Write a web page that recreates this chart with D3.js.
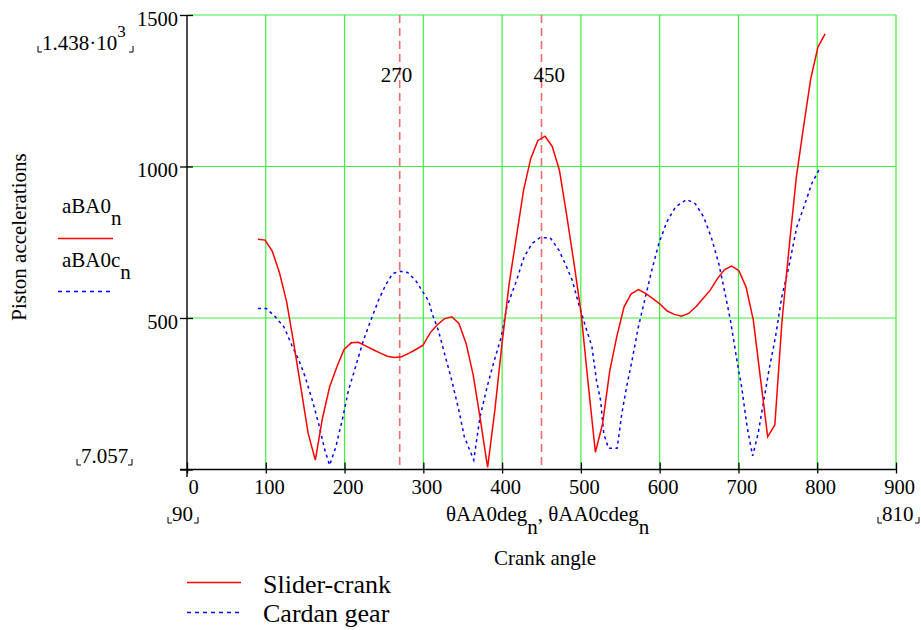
<!DOCTYPE html>
<html>
<head>
<meta charset="utf-8">
<script src="https://cdn.jsdelivr.net/npm/d3@7"></script>
<style>
  body { margin: 0; background: #fff; }
  text { font-family: "Liberation Serif", "Times New Roman", serif; fill: #000; }
</style>
</head>
<body>
<div id="chart"></div>
<script>
// crank angle samples (deg) for the slider-crank curve
var sliderAngles = [90, 99.1, 108.2, 117.3, 126.5, 135.6, 144.7, 153.8, 162.9, 172.0,
  181.1, 190.3, 199.4, 208.5, 217.6, 226.7, 235.8, 244.9, 254.1, 263.2,
  272.3, 281.4, 290.5, 299.6, 308.7, 317.8, 327.0, 336.1, 345.2, 354.3,
  363.4, 372.5, 381.6, 390.8, 399.9, 409.0, 418.1, 427.2, 436.3, 445.4,
  454.6, 463.7, 472.8, 481.9, 491.0, 500.1, 509.2, 518.4, 527.5, 536.6,
  545.7, 554.8, 563.9, 573.0, 582.2, 591.3, 600.4, 609.5, 618.6, 627.7,
  636.8, 646.0, 655.1, 664.2, 673.3, 682.4, 691.5, 700.6, 709.7, 718.9,
  728.0, 737.1, 746.2, 755.3, 764.4, 773.5, 782.7, 791.8, 800.9, 810];
var sliderAcc = [760, 757, 721, 650, 553, 415, 268, 119, 31, 170,
  273, 339, 396, 418, 420, 408, 396, 385, 374, 370,
  372, 383, 396, 410, 451, 478, 498, 504, 482, 416,
  311, 163, 7.057, 196, 416, 614, 767, 921, 1026, 1086,
  1100, 1066, 987, 840, 685, 520, 284, 57, 150, 325,
  440, 537, 580, 594, 581, 564, 546, 523, 512, 506,
  515, 537, 564, 592, 630, 660, 671, 656, 602, 493,
  300, 108, 147, 490, 735, 965, 1132, 1290, 1394, 1438];

// cardan gear curve
var cardanAngles = [90, 101, 112, 123, 133, 142, 150, 159, 167, 175,
  181, 189, 198, 205, 214, 224, 235, 244, 252, 261,
  271, 280, 290, 298, 307, 311, 319, 328, 336, 345,
  352, 364, 372, 381, 389, 399, 406, 417, 428, 438,
  448, 461, 472, 480, 489, 497, 506, 514, 520, 525,
  529, 535, 546, 552, 558, 565, 573, 582, 590, 599,
  609, 620, 634, 645, 656, 666, 675, 683, 690, 698,
  704, 711, 718, 725, 734, 738, 747, 755, 764, 774,
  783, 793, 804];
var cardanAcc = [531, 531, 504, 471, 410, 361, 306, 229, 152, 64,
  14, 75, 174, 262, 339, 427, 504, 564, 608, 647,
  654, 650, 625, 592, 555, 515, 460, 372, 295, 196,
  108, 31, 174, 273, 350, 438, 537, 614, 702, 746,
  765, 765, 724, 680, 625, 548, 471, 405, 290, 229,
  119, 70, 70, 185, 273, 361, 471, 570, 658, 746,
  817, 866, 891, 878, 833, 762, 680, 581, 490, 361,
  273, 141, 45, 119, 255, 317, 438, 570, 669, 800,
  866, 943, 998];

var xTicks = [0, 100, 200, 300, 400, 500, 600, 700, 800, 900];
var yTicks = [0, 500, 1000, 1500];
var markers = [270, 450];

var W = 921, H = 630;
var svg = d3.select('#chart').append('svg')
    .attr('width', W)
    .attr('height', H);

var x = d3.scaleLinear().domain([0, 900]).range([187, 896]);
var y = d3.scaleLinear().domain([0, 1500]).range([469.5, 15]);

var green = '#3cf03c';

// grid
svg.append('g').selectAll('line')
    .data(xTicks.slice(1))
    .enter().append('line')
    .attr('x1', d => x(d)).attr('x2', d => x(d))
    .attr('y1', y(0)).attr('y2', y(1500))
    .attr('stroke', green).attr('stroke-width', 1.2);

svg.append('g').selectAll('line')
    .data(yTicks.slice(1))
    .enter().append('line')
    .attr('x1', x(0)).attr('x2', x(900))
    .attr('y1', d => y(d)).attr('y2', d => y(d))
    .attr('stroke', green).attr('stroke-width', 1.2);

// marker lines
svg.append('g').selectAll('line')
    .data(markers)
    .enter().append('line')
    .attr('x1', d => x(d)).attr('x2', d => x(d))
    .attr('y1', y(1500)).attr('y2', y(0))
    .attr('stroke', '#f26b6b').attr('stroke-width', 1.6)
    .attr('stroke-dasharray', '8,5');

svg.append('text').attr('x', x(270) - 19).attr('y', 82)
    .style('font-size', '21px').text('270');
svg.append('text').attr('x', x(450) - 8).attr('y', 82)
    .style('font-size', '21px').text('450');

// x axis
var xAxis = d3.axisBottom(x).tickValues(xTicks).tickSize(4).tickPadding(10).tickFormat(d3.format('d'));
var gx = svg.append('g')
    .attr('transform', 'translate(0,' + y(0) + ')')
    .call(xAxis);
gx.select('.domain').remove();
gx.selectAll('.tick line').attr('y1', -7).attr('y2', 4).attr('stroke', '#000').attr('stroke-width', 1.3);
gx.selectAll('.tick text')
    .attr('x', 3).attr('y', 24).attr('dy', 0)
    .style('font-size', '20.5px')
    .style('font-family', '"Liberation Serif", serif');
gx.select('.tick text').attr('x', 6);

// y axis
var yAxis = d3.axisLeft(y).tickValues(yTicks).tickSize(7).tickFormat(d3.format('d'));
var gy = svg.append('g')
    .attr('transform', 'translate(' + x(0) + ',0)')
    .call(yAxis);
gy.select('.domain').remove();
gy.selectAll('.tick line').attr('x1', -7).attr('x2', 6).attr('stroke', '#000').attr('stroke-width', 1.3);
gy.selectAll('.tick text')
    .attr('x', -9).attr('dy', 0).attr('y', 10)
    .style('font-size', '20.5px')
    .style('font-family', '"Liberation Serif", serif');
gy.selectAll('.tick').filter(d => d === 0).select('text').remove();

// axis lines
svg.append('line').attr('x1', 180).attr('x2', x(900))
    .attr('y1', y(0)).attr('y2', y(0))
    .attr('stroke', '#000').attr('stroke-width', 1.4);
svg.append('line').attr('x1', x(0)).attr('x2', x(0))
    .attr('y1', y(1500)).attr('y2', 477)
    .attr('stroke', '#000').attr('stroke-width', 1.4);

// curves
var line = d3.line().x(d => x(d[0])).y(d => y(d[1]));
var sliderData = d3.zip(sliderAngles, sliderAcc);
var cardanData = d3.zip(cardanAngles, cardanAcc);

svg.append('path').datum(cardanData)
    .attr('d', line)
    .attr('fill', 'none').attr('stroke', '#0000ff')
    .attr('stroke-width', 1.5).attr('stroke-dasharray', '3,3.5');

svg.append('path').datum(sliderData)
    .attr('d', line)
    .attr('fill', 'none').attr('stroke', '#ff0000')
    .attr('stroke-width', 1.5);

// corner bracket helper
function bracket(x0, x1, yb) {
    svg.append('path').attr('d', 'M' + x0 + ',' + (yb - 6) + 'V' + yb + 'H' + (x0 + 4))
        .attr('fill', 'none').attr('stroke', '#000').attr('stroke-width', 1);
    svg.append('path').attr('d', 'M' + (x1 - 4) + ',' + yb + 'H' + x1 + 'V' + (yb - 6))
        .attr('fill', 'none').attr('stroke', '#000').attr('stroke-width', 1);
}

// limits
var maxLabel = svg.append('text').attr('x', 42).attr('y', 50).style('font-size', '21px');
maxLabel.append('tspan').text('1.438\u00b710');
maxLabel.append('tspan').attr('dy', -13).style('font-size', '17px').text('3');
bracket(38, 133, 52);

svg.append('text').attr('x', 81).attr('y', 463).style('font-size', '21px').text('7.057');
bracket(77, 132, 465);

svg.append('text').attr('x', 172).attr('y', 521).style('font-size', '21px').text('90');
bracket(168, 198, 523);

svg.append('text').attr('x', 882).attr('y', 521).style('font-size', '21px').text('810');
bracket(878, 919, 523);

// left legend
var l1 = svg.append('text').attr('x', 62).attr('y', 213).style('font-size', '21px');
l1.append('tspan').text('aBA0');
l1.append('tspan').attr('dy', 12).text('n');
svg.append('line').attr('x1', 58).attr('x2', 113).attr('y1', 238.5).attr('y2', 238.5)
    .attr('stroke', '#ff0000').attr('stroke-width', 1.5);

var l2 = svg.append('text').attr('x', 62).attr('y', 267).style('font-size', '21px');
l2.append('tspan').text('aBA0c');
l2.append('tspan').attr('dy', 12).text('n');
svg.append('line').attr('x1', 58).attr('x2', 110).attr('y1', 291.5).attr('y2', 291.5)
    .attr('stroke', '#0000ff').attr('stroke-width', 1.5).attr('stroke-dasharray', '4,4');

// axis titles
svg.append('text')
    .attr('transform', 'translate(26,237) rotate(-90)')
    .style('text-anchor', 'middle').style('font-size', '21px')
    .text('Piston accelerations');

var xt = svg.append('text').attr('x', 446).attr('y', 521).style('font-size', '21px');
xt.append('tspan').text('\u03b8AA0deg');
xt.append('tspan').attr('dy', 13).text('n');
xt.append('tspan').attr('dy', -13).text(', \u03b8AA0cdeg');
xt.append('tspan').attr('dy', 13).text('n');

svg.append('text').attr('x', 545).attr('y', 565)
    .style('text-anchor', 'middle').style('font-size', '21px')
    .text('Crank angle');

// bottom legend
svg.append('line').attr('x1', 187).attr('x2', 241).attr('y1', 582.5).attr('y2', 582.5)
    .attr('stroke', '#ff0000').attr('stroke-width', 1.5);
svg.append('text').attr('x', 263).attr('y', 593).style('font-size', '26px').text('Slider-crank');

svg.append('line').attr('x1', 187).attr('x2', 241).attr('y1', 612.5).attr('y2', 612.5)
    .attr('stroke', '#0000ff').attr('stroke-width', 1.5).attr('stroke-dasharray', '4,4');
svg.append('text').attr('x', 263).attr('y', 622).style('font-size', '26px').text('Cardan gear');
</script>
</body>
</html>
